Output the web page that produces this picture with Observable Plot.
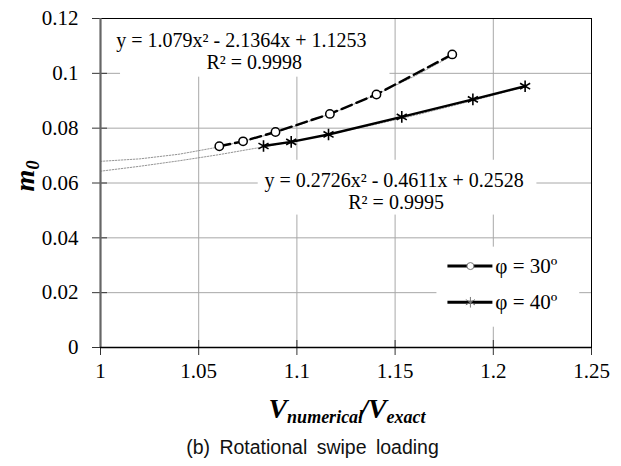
<!DOCTYPE html>
<html>
<head>
<meta charset="utf-8">
<script src="https://cdn.jsdelivr.net/npm/d3@7"></script>
<script src="https://cdn.jsdelivr.net/npm/@observablehq/plot@0.6"></script>
<style>
  body { margin: 0; background: white; }
  #chart { width: 621px; }
  #chart svg g, #chart svg text { font-variant: normal; font-variant-numeric: normal; }
  #caption { width: 621px; height: 34px; line-height: 30px; text-align: center;
    font-family: "Liberation Sans", Arial, sans-serif; font-size: 19.5px; word-spacing: 4px; color: #111; padding-left: 4px; box-sizing: border-box; }
</style>
</head>
<body>
<div id="chart"></div>
<div id="caption">(b) Rotational swipe loading</div>
<script>
// ---- data ----
const xTicks = [1, 1.05, 1.1, 1.15, 1.2, 1.25];
const yTicks = [0, 0.02, 0.04, 0.06, 0.08, 0.1, 0.12];

const phi30X = [1.0605, 1.0726, 1.0891, 1.1168, 1.1405, 1.1791];
const phi30Y = [0.0734, 0.0752, 0.0786, 0.0852, 0.0923, 0.1069];
const phi40X = [1.0830, 1.0971, 1.1161, 1.1534, 1.1896, 1.2162];
const phi40Y = [0.0735, 0.0750, 0.0777, 0.0841, 0.0905, 0.0953];

// polynomial trend lines
const trend30X = [1, 1.02, 1.04, 1.06, 1.08, 1.10, 1.12, 1.14, 1.16, 1.18];
const trend30Y = [0.0679, 0.0688, 0.0705, 0.0731, 0.0765, 0.0809, 0.0860, 0.0921, 0.0990, 0.1068];
const trend40X = [1, 1.02, 1.04, 1.06, 1.08, 1.10, 1.12, 1.14, 1.16, 1.18, 1.20, 1.216];
const trend40Y = [0.0643, 0.0661, 0.0681, 0.0703, 0.0728, 0.0754, 0.0783, 0.0814, 0.0847, 0.0883, 0.0920, 0.0952];

const seriesNames = ["φ = 30º", "φ = 40º"];
const eqTexts = ["y = 1.079x² - 2.1364x + 1.1253", "R² = 0.9998", "y = 0.2726x² - 0.4611x + 0.2528", "R² = 0.9995"];

// ---- tables ----
const d30 = phi30X.map((x, i) => ({x, y: phi30Y[i]}));
const d40 = phi40X.map((x, i) => ({x, y: phi40Y[i]}));
const t30 = trend30X.map((x, i) => ({x, y: trend30Y[i]}));
const t40 = trend40X.map((x, i) => ({x, y: trend40Y[i]}));

// annotation placement (layout, data units)
const boxes = [
  {x1: 1.0102, x2: 1.1474, y1: 0.0986, y2: 0.1199},
  {x1: 1.0803, x2: 1.2222, y1: 0.0483, y2: 0.0683},
  {x1: 1.1713, x2: 1.2440, y1: 0.0074, y2: 0.0366}
];
const eqPos = [
  {x: 1.0717, y: 0.1120, t: eqTexts[0]},
  {x: 1.0783, y: 0.1038, t: eqTexts[1]},
  {x: 1.1495, y: 0.0610, t: eqTexts[2]},
  {x: 1.1505, y: 0.0530, t: eqTexts[3]}
];
const legLines = [
  {x1: 1.1769, x2: 1.1998, y: 0.0297},
  {x1: 1.1769, x2: 1.1998, y: 0.0165}
];
const legText = [
  {x: 1.2010, y: 0.0297, t: seriesNames[0]},
  {x: 1.2010, y: 0.0165, t: seriesNames[1]}
];

const fmt = d => String(+d.toFixed(2));
const noLabel = () => "";
const SERIF = "Liberation Serif";

const plot = Plot.plot({
  width: 621,
  height: 432,
  marginTop: 18,
  marginLeft: 100,
  marginRight: 30,
  marginBottom: 85,
  style: {fontFamily: SERIF, fontSize: "21px", background: "white", color: "black"},
  x: {domain: [1, 1.25]},
  y: {domain: [0, 0.12]},
  marks: [
    Plot.gridX(xTicks, {stroke: "#a8a8a8", strokeOpacity: 1, strokeWidth: 1}),
    Plot.gridY(yTicks, {stroke: "#a8a8a8", strokeOpacity: 1, strokeWidth: 1}),
    Plot.rect(boxes, {x1: "x1", x2: "x2", y1: "y1", y2: "y2", fill: "white"}),
    Plot.line(t30, {x: "x", y: "y", stroke: "#888", strokeWidth: 0.9, strokeDasharray: "1.5,1.5"}),
    Plot.line(t40, {x: "x", y: "y", stroke: "#888", strokeWidth: 0.9, strokeDasharray: "1.5,1.5"}),
    Plot.line(d30, {x: "x", y: "y", stroke: "black", strokeWidth: 2.4, strokeDasharray: "11,5"}),
    Plot.line(d40, {x: "x", y: "y", stroke: "black", strokeWidth: 2.4}),
    Plot.dot(d30, {x: "x", y: "y", r: 4.2, stroke: "black", strokeWidth: 1.5, fill: "white"}),
    Plot.dot(d40, {x: "x", y: "y", r: 5.5, symbol: "asterisk", stroke: "black", strokeWidth: 1.6}),
    Plot.text(eqPos, {x: "x", y: "y", text: "t", fontSize: 20, fontFamily: SERIF, fill: "black"}),
    Plot.ruleY(legLines, {x1: "x1", x2: "x2", y: "y", stroke: "black", strokeWidth: 3}),
    Plot.dot([legLines[0]], {x: d => (d.x1 + d.x2) / 2, y: "y", r: 3.5, stroke: "#777", strokeWidth: 1, fill: "white"}),
    Plot.dot([legLines[1]], {x: d => (d.x1 + d.x2) / 2, y: "y", r: 5, symbol: "asterisk", stroke: "#777", strokeWidth: 1}),
    Plot.text(legText, {x: "x", y: "y", text: "t", textAnchor: "start", fontSize: 21, fontFamily: SERIF, fill: "black"}),
    // tick labels (serif) placed through the scales
    Plot.text(yTicks, {y: d => d, frameAnchor: "left", dx: -22, textAnchor: "end", text: fmt, fontSize: 21, fontFamily: SERIF, fill: "black"}),
    Plot.text(xTicks, {x: d => d, frameAnchor: "bottom", dy: 30, text: fmt, fontSize: 21, fontFamily: SERIF, fill: "black"}),
    // tick marks crossing the axes
    Plot.axisY(yTicks, {tickSize: 15, dx: 7, tickFormat: noLabel, label: null, stroke: "#333"}),
    Plot.axisX(xTicks, {tickSize: 15, dy: -7, tickFormat: noLabel, label: null, stroke: "#333"}),
    Plot.frame({stroke: "black", strokeWidth: 1}),
    Plot.ruleX([1], {stroke: "#666", strokeWidth: 2.2}),
    Plot.ruleY([0], {stroke: "black", strokeWidth: 1.5})
  ]
});

const svg = d3.select(plot);
// x-axis title with subscripts
const xt = svg.append("text")
  .attr("x", 347).attr("y", 418)
  .attr("text-anchor", "middle")
  .attr("font-family", SERIF)
  .attr("font-weight", "bold").attr("font-style", "italic").attr("fill", "black");
xt.append("tspan").attr("font-size", 28).text("V");
xt.append("tspan").attr("font-size", 18).attr("dy", 5).text("numerical");
xt.append("tspan").attr("font-size", 28).attr("dy", -5).attr("dx", -3).text("/V");
xt.append("tspan").attr("font-size", 18).attr("dy", 5).text("exact");

// y-axis title
const yt = svg.append("text")
  .attr("transform", "translate(34,176) rotate(-90)")
  .attr("text-anchor", "middle")
  .attr("font-family", SERIF)
  .attr("font-weight", "bold").attr("font-style", "italic").attr("fill", "black");
yt.append("tspan").attr("font-size", 28).text("m");
yt.append("tspan").attr("font-size", 18).attr("dy", 5).text("0");

document.getElementById("chart").appendChild(plot);
</script>
</body>
</html>
